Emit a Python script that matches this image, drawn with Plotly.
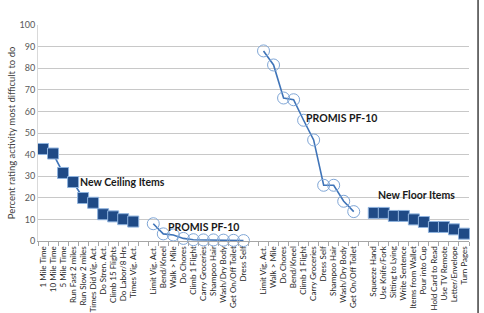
import plotly.graph_objects as go

ceiling_labels = ["1 Mile Time", "10 Mile Time", "5 Mile Time", "Run Fast 2 miles", "Run Slow 2 miles",
                  "Times Did Vig. Act.", "Do Stren. Act.", "Climb 15 Flights", "Do Labor/8 Hrs", "Times Vig. Act."]
ceiling_values = [42.6, 40.5, 31.5, 27.3, 19.9, 17.7, 12.4, 11.4, 10.1, 9.0]

promis1_labels = ["Limit Vig. Act.", "Bend/Kneel", "Walk > Mile", "Do Chores", "Climb 1 Flight",
                  "Carry Groceries", "Shampoo Hair", "Wash/Dry Body", "Get On/Off Toilet", "Dress Self"]
promis1_values = [8.0, 3.3, 2.8, 1.2, 0.6, 0.5, 0.5, 0.4, 0.3, 0.2]

promis2_labels = ["Limit Vig. Act.", "Walk > Mile", "Do Chores", "Bend/Kneel", "Climb 1 Flight",
                  "Carry Groceries", "Dress Self", "Shampoo Hair", "Wash/Dry Body", "Get On/Off Toilet"]
promis2_values = [88.0, 81.5, 66.2, 65.4, 55.9, 46.8, 25.8, 25.8, 18.4, 13.6]

floor_labels = ["Squeeze Hand", "Use Knife/Fork", "Sitting to Lying", "Write Sentence", "Items from Wallet",
                "Pour into Cup", "Hold Card to Read", "Use TV Remote", "Letter/Envelope", "Turn Pages"]
floor_values = [13.0, 13.0, 11.6, 11.6, 10.0, 8.8, 6.5, 6.5, 5.4, 3.4]

y_title = "Percent rating activity most difficult to do"

groups = [ceiling_labels, promis1_labels, promis2_labels, floor_labels]
group_values = [ceiling_values, promis1_values, promis2_values, floor_values]
group_names = ["New Ceiling Items", "PROMIS PF-10", "PROMIS PF-10", "New Floor Items"]

# category axis with one blank slot between groups
tick_text = []
group_x = []
for gi, labels in enumerate(groups):
    if gi > 0:
        tick_text.append("")
    xs = []
    for lab in labels:
        xs.append(len(tick_text))
        tick_text.append(lab)
    group_x.append(xs)
tick_vals = list(range(len(tick_text)))
n = len(tick_text)

line_col = "#3f74b8"
square_fill = "#1f4a86"
square_edge = "#8fb3de"
circle_edge = "#7fa6d6"

fig = go.Figure()
for gi in range(4):
    is_square = gi in (0, 3)
    fig.add_trace(go.Scatter(
        x=group_x[gi], y=group_values[gi], mode="lines+markers",
        line=dict(color=line_col, width=1.6),
        marker=dict(symbol="square" if is_square else "circle-open",
                    size=11 if is_square else 12,
                    color=square_fill if is_square else circle_edge,
                    line=dict(color=square_edge if is_square else circle_edge, width=1)),
        showlegend=False, cliponaxis=False))

# annotations for groups
ann_pos = [(7.9, 27.3), (16.0, 6.6), (29.8, 56.8), (37.3, 21.3)]
for (ax, ay), name in zip(ann_pos, group_names):
    fig.add_annotation(x=ax, y=ay, text="<b>%s</b>" % name, showarrow=False,
                       font=dict(family="Lato, Open Sans, sans-serif", size=10.5, color="#1a1a1a"))

# y-axis title
fig.add_annotation(xref="paper", yref="paper", x=-0.062, y=0.5, text=y_title, textangle=-90,
                   xanchor="center", yanchor="middle",
                   showarrow=False, font=dict(family="Lato, Open Sans, sans-serif", size=9.5, color="#404040"))

fig.update_layout(
    width=484, height=313,
    margin=dict(l=38, r=15, t=25, b=72),
    paper_bgcolor="white", plot_bgcolor="white",
    font=dict(family="Lato, Open Sans, sans-serif", color="#404040"),
    xaxis=dict(range=[-0.5, n - 0.5], tickvals=tick_vals, ticktext=tick_text, tickangle=-90,
               ticks="", showgrid=False, zeroline=False, showline=True, linecolor="#a6a6a6", linewidth=1,
               automargin=False, ticklabelstandoff=1,
               tickfont=dict(size=8, color="#262626"),
               minor=dict(tickvals=[i - 0.5 for i in range(n + 1)], ticks="outside", ticklen=4,
                          tickcolor="#a6a6a6", showgrid=False)),
    yaxis=dict(range=[0, 100], dtick=10, showgrid=True, gridcolor="#c8c8c8", gridwidth=1,
               zeroline=False, showline=True, linecolor="#d9d9d9", ticks="", automargin=False,
               tickfont=dict(size=9, color="#595959")),
    shapes=[dict(type="line", xref="paper", yref="paper", x0=1.021, x1=1.021, y0=-0.34, y1=1.12,
                 line=dict(color="#404040", width=1.5))],
)

fig.write_html("out.html")
